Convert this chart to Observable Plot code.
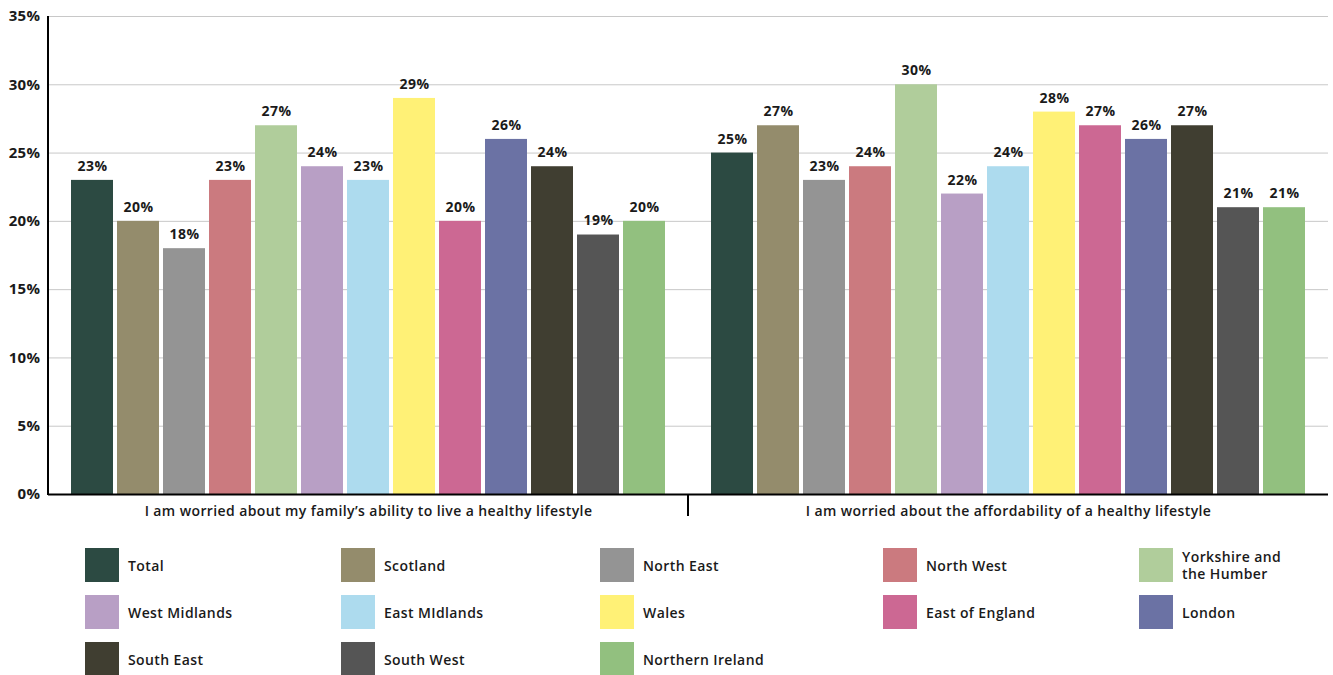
<!DOCTYPE html>
<html>
<head>
<meta charset="utf-8">
<script src="https://cdn.jsdelivr.net/npm/d3@7"></script>
<script src="https://cdn.jsdelivr.net/npm/@observablehq/plot@0.6"></script>
<style>
  html, body { margin: 0; padding: 0; background: #fff; }
  body { width: 1333px; font-family: "Open Sans", Lato, sans-serif; color: #1a1a1a; }
  #legend {
    display: grid;
    grid-template-columns: 256px 259px 283px 256px 200px;
    row-gap: 13px;
    padding: 23px 0 0 85px;
  }
  .item { display: flex; align-items: center; height: 34px; font-size: 14px; font-weight: 600; line-height: 17px; letter-spacing: 0.4px; }
  .sw { width: 34px; height: 34px; flex: none; margin-right: 9px; }
</style>
</head>
<body>
<div id="chart"></div>
<div id="legend"></div>
<script>
// Survey statements (one facet each)
const statements = [
  "I am worried about my family\u2019s ability to live a healthy lifestyle",
  "I am worried about the affordability of a healthy lifestyle"
];

// Regions, in bar order
const regions = [
  "Total", "Scotland", "North East", "North West", "Yorkshire and the Humber",
  "West Midlands", "East MIdlands", "Wales", "East of England", "London",
  "South East", "South West", "Northern Ireland"
];

const regionColors = [
  "#2c4a42", "#948c6c", "#949494", "#cb7a7f", "#b0cd9b",
  "#b89fc5", "#addbee", "#fff176", "#cc6893", "#6b72a4",
  "#403e31", "#555555", "#92c07f"
];

// Percent agreeing, per region
const familyAbility = [23, 20, 18, 23, 27, 24, 23, 29, 20, 26, 24, 19, 20];
const affordability = [25, 27, 23, 24, 30, 22, 24, 28, 27, 26, 27, 21, 21];

const yTicks = [0, 5, 10, 15, 20, 25, 30, 35];

const data = [
  ...regions.map((r, i) => ({statement: statements[0], region: r, value: familyAbility[i]})),
  ...regions.map((r, i) => ({statement: statements[1], region: r, value: affordability[i]}))
];

const font = "'Open Sans', Lato, sans-serif";

const chart = Plot.plot({
  width: 1333,
  height: 525,
  marginTop: 16,
  marginBottom: 31,
  marginLeft: 48,
  marginRight: 5,
  style: {fontFamily: font, color: "#1a1a1a", background: "#fff"},
  fx: {domain: statements, padding: 0, axis: null},
  x: {domain: regions, paddingInner: 0.087, paddingOuter: 0.5, axis: null},
  y: {domain: [0, 35], axis: null},
  color: {domain: regions, range: regionColors},
  marks: [
    Plot.gridY(yTicks.slice(1), {stroke: "#c8c8c8", strokeOpacity: 1, strokeWidth: 1}),
    Plot.axisY(yTicks, {
      anchor: "left", tickSize: 0, tickPadding: 8, label: null,
      tickFormat: d => d + "%", fontSize: 15, fontWeight: 700, fill: "#1a1a1a",
      facetAnchor: "left"
    }),
    Plot.barY(data, {fx: "statement", x: "region", y: "value", fill: "region"}),
    Plot.text(data, {
      fx: "statement", x: "region", y: "value",
      text: d => d.value + "%", dy: -14,
      fontSize: 14, fontWeight: 700, fill: "#1a1a1a"
    }),
    Plot.ruleY([0], {stroke: "#000", strokeWidth: 2}),
    Plot.text(statements, {
      fx: d => d, text: d => d, frameAnchor: "bottom", dy: 21,
      fontSize: 14, fontWeight: 600, fill: "#1a1a1a"
    })
  ]
});

// Slightly open letter spacing on all labels
d3.select(chart).selectAll("text").style("letter-spacing", "0.4px");

document.getElementById("chart").appendChild(chart);

// Left axis line and the separator tick between the two statements
const fxs = chart.scale("fx");
const ys = chart.scale("y");
const svg = d3.select(chart);
const x0 = fxs.apply(statements[0]);
const x1 = fxs.apply(statements[1]);
svg.append("line")
  .attr("x1", x0).attr("x2", x0)
  .attr("y1", ys.apply(35)).attr("y2", ys.apply(0) + 1)
  .attr("stroke", "#000").attr("stroke-width", 2);
svg.append("line")
  .attr("x1", x1).attr("x2", x1)
  .attr("y1", ys.apply(0)).attr("y2", ys.apply(0) + 22)
  .attr("stroke", "#000").attr("stroke-width", 2);

// Legend
const legend = d3.select("#legend");
const legendLabels = regions.map(r => r === "Yorkshire and the Humber" ? "Yorkshire and<br>the Humber" : r);
regions.forEach((r, i) => {
  const item = legend.append("div").attr("class", "item");
  item.append("div").attr("class", "sw").style("background", regionColors[i]);
  item.append("span").html(legendLabels[i]);
});
</script>
</body>
</html>
